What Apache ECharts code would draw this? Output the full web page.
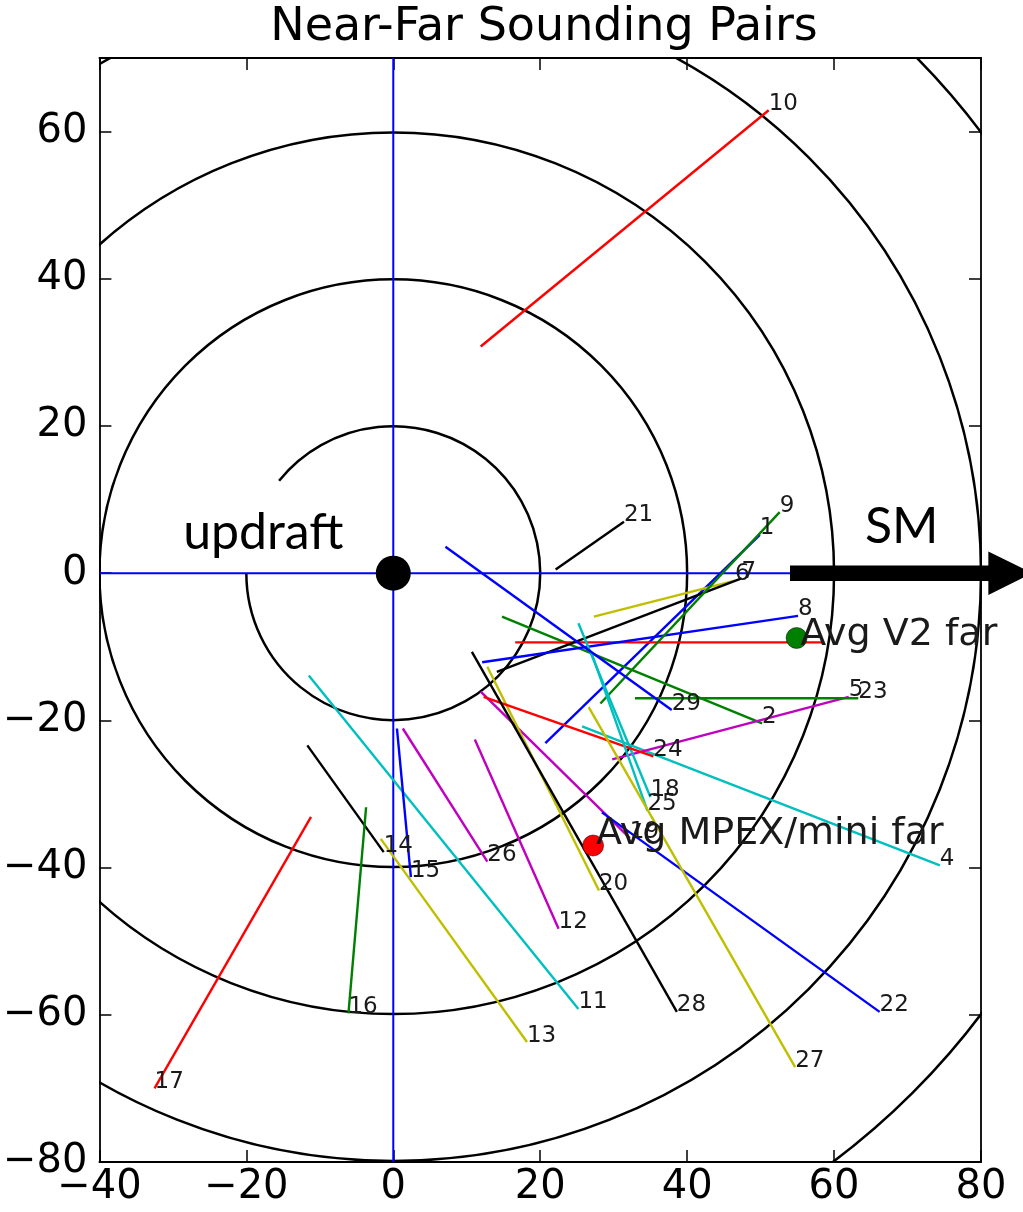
<!DOCTYPE html>
<html><head><meta charset="utf-8">
<script src="https://cdn.jsdelivr.net/npm/echarts@6/dist/echarts.min.js"></script>
<style>html,body{margin:0;padding:0;background:#fff}#c{width:1023px;height:1212px}</style>
</head><body><div id="c"></div>
<script>
// ---- data ----
const segIds    = [1,2,3,4,5,6,7,8,9,10,11,12,13,14,15,16,17,18,19,20,21,22,23,24,25,26,27,28,29];
const segLabels = ['1','2','','4','5','6','7','8','9','10','11','12','13','14','15','16','17','18','19','20','21','22','23','24','25','26','27','28','29'];
const segX1 = [20.7,14.8,16.6,25.7,29.8,27.3,14.1,12.1,28.2,11.9,-11.5,11.1,-1.7,-11.7,0.5,-3.7,-11.2,25.2,11.9,12.8,22.1,28.4,32.9,12.3,27.0,1.3,26.6,10.7,7.1];
const segY1 = [-23.1,-5.9,-9.4,-20.8,-25.3,-5.9,-13.4,-12.1,-17.7,30.8,-13.9,-22.6,-36.1,-23.4,-21.1,-31.8,-33.1,-6.8,-16.1,-12.7,0.5,-32.5,-17.0,-16.8,-10.9,-21.1,-18.2,-10.7,3.6];
const segX2 = [49.9,50.2,58.5,74.4,62.0,46.5,47.4,55.1,52.6,51.1,25.2,22.5,18.2,-1.3,2.4,-6.1,-32.5,35.0,32.2,28.0,31.4,66.2,63.3,35.4,34.6,12.8,54.7,38.6,37.9];
const segY2 = [5.2,-20.4,-9.4,-39.7,-16.8,-1.0,-0.7,-5.8,8.3,62.9,-59.2,-48.3,-63.7,-37.9,-41.3,-59.8,-70.0,-30.4,-36.0,-43.1,7.0,-59.6,-17.0,-24.9,-32.3,-39.2,-67.1,-59.6,-18.6];
const colorCycle = ['#0000ff','#008000','#ff0000','#00bfbf','#bf00bf','#bfbf00','#000000'];

const ringRadii = [20,40,60,80,100];
const ringFrom  = [-180,0,0,0,0];     // degrees (data angle)
const ringTo    = [141,360,360,360,360];

const avgNames = ['Avg V2 far','Avg MPEX/mini far'];
const avgX = [54.9,27.2];
const avgY = [-8.8,-37.0];
const avgColors = ['#008000','#ff0000'];
const avgTextX = [55.4,27.6];
const avgTextY = [-9.9,-37.0];

const notes = ['updraft','SM'];
const noteX = [-28.6,64.2];
const noteY = [3.4,4.2];

const arrowXs = [54,81,87];   // shaft start, head base, tip
const arrowShaft = 1.05, arrowHead = 2.95;

// ---- build ----
const series = [];
series.push({
  type:'custom', clip:true, z:1, silent:true,
  data: ringRadii.map((r,i)=>[r,ringFrom[i],ringTo[i]]),
  renderItem:function(params, api){
    const c = api.coord([0,0]);
    const r = api.size([api.value(0), 0])[0];
    const a0 = api.value(1), a1 = api.value(2);
    return {type:'arc', shape:{cx:c[0], cy:c[1], r:r,
      startAngle:-a1*Math.PI/180, endAngle:-a0*Math.PI/180, clockwise:true},
      style:{stroke:'#000', lineWidth:2.5, fill:null}};
  }
});
series.push({type:'line', data:[[0,-80],[0,70]], symbol:'none', lineStyle:{color:'#0000ff', width:2}, z:2, silent:true});
series.push({type:'line', data:[[-40,0],[80,0]], symbol:'none', lineStyle:{color:'#0000ff', width:2}, z:2, silent:true});
segIds.forEach((id,i)=>{
  series.push({type:'line', data:[[segX1[i],segY1[i]],[segX2[i],segY2[i]]], symbol:'none',
    lineStyle:{color:colorCycle[i%7], width:2.4}, z:3, silent:true});
});
series.push({type:'scatter', symbolSize:0, z:4, silent:true, itemStyle:{opacity:1},
  data: segIds.map((id,i)=>({value:[segX2[i],segY2[i]], name:segLabels[i]})),
  label:{show:true, formatter:p=>p.name, position:[0,0], align:'left', verticalAlign:'bottom',
    offset:[0,5], fontFamily:'DejaVu Sans', fontSize:23, color:'#1a1a1a'}
});
series.push({type:'custom', clip:false, z:5, silent:true, data:[[0]],
  renderItem:function(params, api){
    const p = (x,y)=>api.coord([x,y]);
    const pts = [p(arrowXs[0],arrowShaft), p(arrowXs[1],arrowShaft), p(arrowXs[1],arrowHead),
      p(arrowXs[2],0), p(arrowXs[1],-arrowHead), p(arrowXs[1],-arrowShaft), p(arrowXs[0],-arrowShaft)];
    return {type:'polygon', shape:{points:pts}, style:{fill:'#000'}};
  }
});
series.push({type:'scatter', data:[[0,0]], symbolSize:35, itemStyle:{color:'#000', opacity:1}, z:6, silent:true});
series.push({type:'scatter', z:6, silent:true, symbolSize:21,
  data: avgNames.map((n,i)=>({value:[avgX[i],avgY[i]], itemStyle:{color:avgColors[i], opacity:1, borderColor:'#000', borderWidth:0.5}}))});
series.push({type:'scatter', symbolSize:0, z:7, silent:true, itemStyle:{opacity:1},
  data: avgNames.map((n,i)=>({value:[avgTextX[i],avgTextY[i]], name:n})),
  label:{show:true, formatter:p=>p.name, position:[0,0], align:'left', verticalAlign:'bottom',
    offset:[0,8], fontFamily:'DejaVu Sans', fontSize:38, color:'#1a1a1a'}
});
series.push({type:'scatter', symbolSize:0, z:7, silent:true, itemStyle:{opacity:1},
  data: notes.map((n,i)=>({value:[noteX[i],noteY[i]], name:n})),
  label:{show:true, formatter:p=>p.name, position:[0,0], align:'left', verticalAlign:'bottom',
    offset:[0,10], fontFamily:'Lato', fontSize:50, color:'#000'}
});

const axisFont = {fontFamily:'DejaVu Sans', fontSize:40, color:'#000'};
const tickStyle = {inside:true, length:12, lineStyle:{color:'#000', width:1.5}};
const lineStyleAx = {onZero:false, lineStyle:{color:'#000', width:1.8}};
const minusFmt = v=>String(v).replace('-','\u2212');
const option = {
  animation:false,
  backgroundColor:'#fff',
  title:{text:'Near-Far Sounding Pairs', left:539, textAlign:'center', top:0,
    textStyle:{fontFamily:'DejaVu Sans', fontSize:46, fontWeight:'normal', color:'#000'}},
  grid:{left:98, right:42, top:58, bottom:50, containLabel:false},
  xAxis:[
    {type:'value', min:-40, max:80, interval:20, position:'bottom',
     axisLine:lineStyleAx, axisTick:tickStyle, splitLine:{show:false},
     axisLabel:Object.assign({margin:6, formatter:minusFmt}, axisFont)},
    {type:'value', min:-40, max:80, interval:20, position:'top',
     axisLine:lineStyleAx, axisTick:tickStyle, splitLine:{show:false}, axisLabel:{show:false}}
  ],
  yAxis:[
    {type:'value', min:-80, max:70, interval:20, position:'left',
     axisLine:lineStyleAx, axisTick:tickStyle, splitLine:{show:false},
     axisLabel:Object.assign({margin:12, showMaxLabel:false, formatter:minusFmt}, axisFont)},
    {type:'value', min:-80, max:70, interval:20, position:'right',
     axisLine:lineStyleAx, axisTick:tickStyle, splitLine:{show:false}, axisLabel:{show:false}}
  ],
  series: series
};
const chart = echarts.init(document.getElementById('c'), null, {renderer:'canvas'});
chart.setOption(option);
</script></body></html>
